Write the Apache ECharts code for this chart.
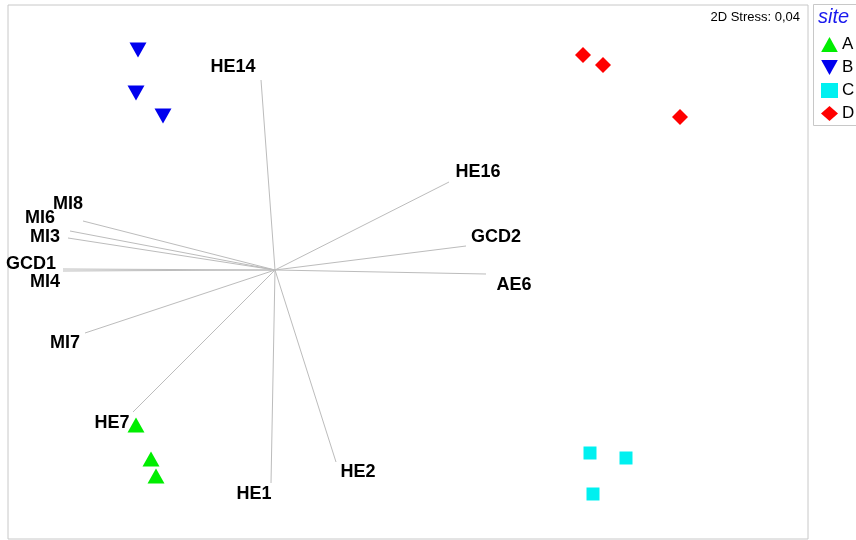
<!DOCTYPE html>
<html>
<head>
<meta charset="utf-8">
<script src="https://cdn.jsdelivr.net/npm/echarts@6/dist/echarts.min.js"></script>
<style>
  html, body { margin: 0; padding: 0; background: #fff; }
  #chart { width: 856px; height: 540px; }
</style>
</head>
<body>
<div id="chart"></div>
<script>
// NMDS site scores (axis 1, axis 2)
const siteA = [[-0.556, -0.62], [-0.496, -0.756], [-0.476, -0.824]];
const siteB = [[-0.548, 0.88], [-0.556, 0.708], [-0.448, 0.616]];
const siteC = [[1.26, -0.732], [1.404, -0.752], [1.272, -0.896]];
const siteD = [[1.232, 0.86], [1.312, 0.82], [1.62, 0.612]];

// Fitted variable vectors (arrow tips, origin at 0,0)
const vectorNames = ['HE14', 'HE16', 'GCD2', 'AE6', 'HE2', 'HE1', 'HE7', 'MI7', 'GCD1', 'MI4', 'MI3', 'MI6', 'MI8'];
const vectorX = [-0.056, 0.696, 0.764, 0.844, 0.244, -0.016, -0.568, -0.76, -0.848, -0.848, -0.828, -0.82, -0.768];
const vectorY = [0.76, 0.352, 0.096, -0.016, -0.768, -0.852, -0.568, -0.252, 0.004, -0.004, 0.128, 0.156, 0.196];

const stressText = '2D Stress: 0,04';
const siteNames = ['A', 'B', 'C', 'D'];

// label placement relative to each vector tip, in pixels
const labelOffsets = {
  HE14: [-28, -13], HE16: [29, -10], GCD2: [30, -9], AE6: [28, 11],
  HE2: [22, 10], HE1: [-17, 11], HE7: [-21, 11], MI7: [-20, 10],
  GCD1: [-32, -5], MI4: [-18, 11], MI3: [-23, -1], MI6: [-30, -13], MI8: [-15, -17]
};

const vectorData = vectorNames.map((n, i) => [vectorX[i], vectorY[i], n]);

const downTriangle = 'path://M0,0 L10,0 L5,9 Z';
const upTriangle = 'path://M5,0 L10,9 L0,9 Z';

const chart = echarts.init(document.getElementById('chart'), null, { renderer: 'canvas' });

const labelFont = 'bold 18px "Liberation Sans", Arial, sans-serif';

chart.setOption({
  animation: false,
  backgroundColor: '#ffffff',
  grid: {
    left: 8, right: 48, top: 5, bottom: 1,
    show: true, borderColor: '#c8c8c8', borderWidth: 1, backgroundColor: '#ffffff'
  },
  xAxis: { type: 'value', min: -1.068, max: 2.132, show: false },
  yAxis: { type: 'value', min: -1.076, max: 1.06, show: false },
  legend: {
    orient: 'vertical',
    left: 816, top: 31,
    itemWidth: 17, itemHeight: 15, itemGap: 6,
    data: siteNames,
    textStyle: { fontFamily: '"Liberation Sans", Arial, sans-serif', fontSize: 17, lineHeight: 15, color: '#000', padding: [0, 0, 0, -1] },
    selectedMode: false
  },
  graphic: [
    { type: 'rect', shape: { x: 813.5, y: 4.5, width: 60, height: 121 },
      style: { fill: 'none', stroke: '#c8c8c8', lineWidth: 1 }, z: 0 },
    { type: 'text', left: 818, top: 7,
      style: { text: 'site', fill: '#1a1aee', font: 'italic 20px "Liberation Sans", Arial, sans-serif' } },
    { type: 'text', right: 56, top: 11,
      style: { text: stressText, fill: '#000', font: '13px "Liberation Sans", Arial, sans-serif' } }
  ],
  series: [
    {
      type: 'custom',
      name: 'vectors',
      data: vectorData,
      z: 1,
      renderItem: function (params, api) {
        const o = api.coord([0, 0]);
        const p = api.coord([api.value(0), api.value(1)]);
        const name = vectorNames[params.dataIndex];
        const off = labelOffsets[name];
        return {
          type: 'group',
          children: [
            { type: 'line', shape: { x1: o[0], y1: o[1], x2: p[0], y2: p[1] },
              style: { stroke: '#bcbcbc', lineWidth: 1 } },
            { type: 'text', x: p[0] + off[0], y: p[1] + off[1],
              style: { text: name, fill: '#000', font: labelFont, align: 'center', verticalAlign: 'middle' } }
          ]
        };
      }
    },
    { name: 'A', type: 'scatter', data: siteA, symbol: upTriangle, symbolSize: [17, 15],
      itemStyle: { color: '#00ee00', opacity: 1 }, z: 3 },
    { name: 'B', type: 'scatter', data: siteB, symbol: downTriangle, symbolSize: [17, 15],
      itemStyle: { color: '#0000ee', opacity: 1 }, z: 3 },
    { name: 'C', type: 'scatter', data: siteC, symbol: 'rect', symbolSize: 13,
      itemStyle: { color: '#00f0f0', opacity: 1 }, z: 3 },
    { name: 'D', type: 'scatter', data: siteD, symbol: 'diamond', symbolSize: 16,
      itemStyle: { color: '#ff0000', opacity: 1 }, z: 3 }
  ]
});
</script>
</body>
</html>
